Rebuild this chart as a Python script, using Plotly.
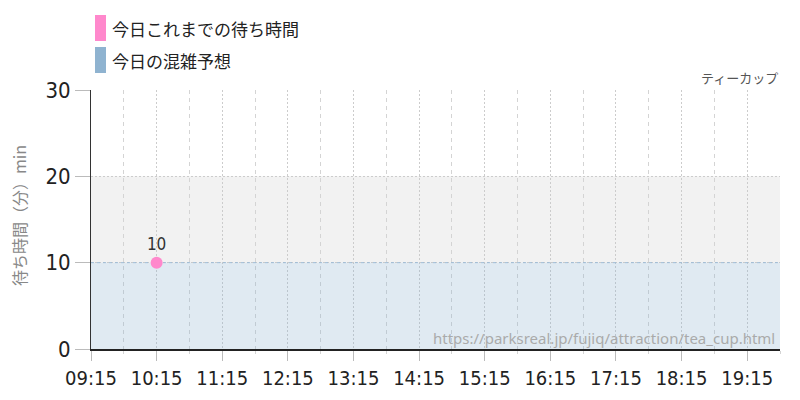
import plotly.graph_objects as go

# data
actual_times = ["2024-01-01 10:15"]
actual_waits = [10]
forecast_times = ["2024-01-01 09:15", "2024-01-01 10:15", "2024-01-01 11:15", "2024-01-01 12:15",
                  "2024-01-01 13:15", "2024-01-01 14:15", "2024-01-01 15:15", "2024-01-01 16:15",
                  "2024-01-01 17:15", "2024-01-01 18:15", "2024-01-01 19:15", "2024-01-01 19:45"]
forecast_waits = [10, 10, 10, 10, 10, 10, 10, 10, 10, 10, 10, 10]
legend_labels = ["今日これまでの待ち時間", "今日の混雑予想"]
legend_colors = ["#ff88cc", "#8fb3d0"]
y_title = "待ち時間（分）min"
attraction = "ティーカップ"
source_url = "https://parksreal.jp/fujiq/attraction/tea_cup.html"

NUM_FONT = "DejaVu Sans Condensed, Roboto, sans-serif"
JP_FONT = "Noto Sans CJK JP"

L, R, T, B = 91, 20, 90, 51
PW, PH = 800 - L - R, 400 - T - B


def px(x):
    return (x - L) / PW


def py(y):
    return (400 - B - y) / PH


fig = go.Figure()
fig.add_trace(go.Scatter(
    x=forecast_times, y=forecast_waits, mode="lines",
    line=dict(color="#9fbcd6", width=1, dash="dot"),
    fill="tozeroy", fillcolor="rgba(143,179,208,0.28)",
    hoverinfo="skip", showlegend=False,
))
fig.add_trace(go.Scatter(
    x=actual_times, y=actual_waits, mode="markers+text",
    marker=dict(color=legend_colors[0], size=12),
    text=[str(v) for v in actual_waits], textposition="top center",
    textfont=dict(family=NUM_FONT, size=17, color="#333"),
    showlegend=False,
))

shapes = [dict(type="rect", xref="paper", yref="y", x0=0, x1=1, y0=10, y1=20,
               fillcolor="#f2f2f2", line_width=0, layer="below")]
annotations = []
for i, (lab, col) in enumerate(zip(legend_labels, legend_colors)):
    top = 15 + i * 32
    shapes.append(dict(type="rect", xref="paper", yref="paper",
                       x0=px(95), x1=px(106), y0=py(top + 26), y1=py(top),
                       fillcolor=col, line_width=0))
    annotations.append(dict(xref="paper", yref="paper", x=px(110),
                            y=py(top + 13), text=lab, showarrow=False,
                            xanchor="left", yanchor="middle",
                            font=dict(family=JP_FONT, size=17, color="#222")))
annotations.append(dict(xref="paper", yref="paper", x=1, y=py(77),
                        text=attraction, showarrow=False, xanchor="right", yanchor="middle",
                        font=dict(family=JP_FONT, size=13, color="#555")))
annotations.append(dict(xref="paper", yref="paper", x=px(777), y=py(338),
                        text=source_url, showarrow=False, xanchor="right", yanchor="middle",
                        font=dict(family="Noto Sans", size=15, color="#aaaaaa")))
annotations.append(dict(xref="paper", yref="paper", x=px(19), y=py(216),
                        text=y_title, showarrow=False, textangle=-90,
                        xanchor="center", yanchor="middle",
                        font=dict(family=JP_FONT, size=16, color="#888")))

fig.update_layout(
    width=800, height=400,
    margin=dict(l=L, r=R, t=T, b=B, autoexpand=False),
    plot_bgcolor="white", paper_bgcolor="white",
    shapes=shapes, annotations=annotations,
    showlegend=False,
)
fig.update_xaxes(
    range=["2024-01-01 09:15", "2024-01-01 19:45"],
    tick0="2024-01-01 09:15", dtick=3600000, tickformat="%H:%M",
    showgrid=True, gridcolor="#cccccc", griddash="2px,2px", gridwidth=1,
    ticks="outside", ticklen=10, tickcolor="#bbbbbb",
    minor=dict(tick0="2024-01-01 09:45", dtick=3600000, showgrid=True, gridcolor="#d4d4d4",
               griddash="4px,4px", ticks="outside", ticklen=3, tickcolor="#d4d4d4"),
    showline=True, linecolor="#222", linewidth=1.5,
    tickfont=dict(family=NUM_FONT, size=20, color="#222"),
    zeroline=False, automargin=False,
)
fig.update_yaxes(
    range=[0, 30], dtick=10,
    showgrid=True, gridcolor="#cccccc", griddash="2px,2px", gridwidth=1,
    ticks="outside", ticklen=15, tickcolor="#bbbbbb",
    showline=True, linecolor="#333", linewidth=1,
    tickfont=dict(family=NUM_FONT, size=22, color="#222"),
    zeroline=False, automargin=False,
)
fig.write_html("out.html", config={"displayModeBar": False},
               post_script="document.body.style.margin='0';")
